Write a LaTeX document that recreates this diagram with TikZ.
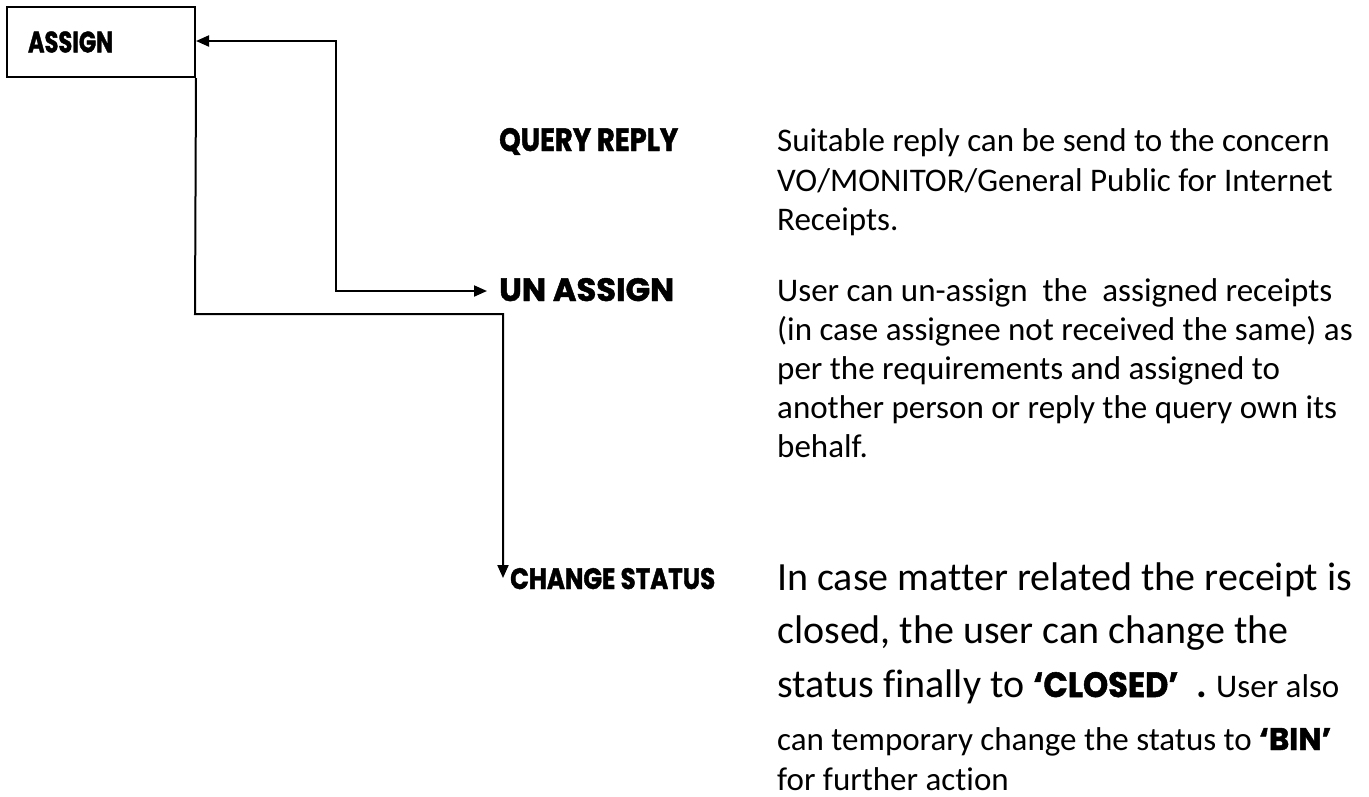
\documentclass[tikz,border=0pt]{standalone}
\usepackage{fontspec}
\setmainfont{Carlito}[Ligatures={NoCommon,NoContextual}]
\newfontfamily\headfont{Poppins}[FakeBold=1.5]
\usetikzlibrary{arrows.meta}
\newcommand\headtxt[3]{\resizebox{#1pt}{#2pt}{\headfont\bfseries #3}}
\tikzset{
  conn/.style={line width=2pt},
  tipB/.style={-{Triangle[length=13pt,width=11pt]}},
  head/.style={anchor=base west, inner sep=0pt},
  qtxt/.style={anchor=base west, inner sep=0pt, font=\fontsize{33}{40}\selectfont},
  utxt/.style={anchor=base west, inner sep=0pt, font=\fontsize{33}{40}\selectfont},
  btxt/.style={anchor=base west, inner sep=0pt, font=\fontsize{40}{48}\selectfont},
}
\begin{document}
\begin{tikzpicture}[x=1pt,y=-1pt]
\useasboundingbox (0,0) rectangle (1369,796);
\node[draw, line width=2pt, minimum height=70pt, text width=146pt, inner xsep=21pt, align=left] (assign) at (101,42) {\headtxt{85}{21}{ASSIGN}};

\node[head] (query) at (499,151) {\headtxt{179}{23}{QUERY REPLY}};
\node[head] (unassign) at (499,301) {\headtxt{175}{23}{UN ASSIGN}};
\node[head] (change) at (510,589) {\headtxt{205}{21}{CHANGE STATUS}};

\node[qtxt] (q1) at (777,151) {Suitable reply can be send to the concern};
\node[qtxt] (q2) at (777,191) {VO/MONITOR/General Public for Internet};
\node[qtxt] (q3) at (777,230) {Receipts.};

\node[utxt] (u1) at (777,301) {User can un-assign\ \ the\ \ assigned receipts};
\node[utxt] (u2) at (777,340) {(in case assignee not received the same) as};
\node[utxt] (u3) at (777,379) {per the requirements and assigned to};
\node[utxt] (u4) at (777,418) {another person or reply the query own its};
\node[utxt] (u5) at (777,457) {behalf.};

\node[btxt] (c1) at (777,590) {In case matter related the receipt is};
\node[btxt] (c2) at (777,643) {closed, the user can change the};
\node[btxt] (c3) at (777,697) {status finally to \headtxt{145}{25}{‘CLOSED’}\ \ \textbf{.}\ {\fontsize{33}{40}\selectfont User also}};
\node[utxt] (c4) at (777,750) {can temporary change the status to \headtxt{72}{22}{‘BIN’}};
\node[utxt] (c5) at (777,790) {for further action};

\coordinate (a1) at (336,41);
\coordinate (a2) at (336,291);
\draw[conn, {Triangle[length=13pt,width=11pt]}-{Triangle[length=13pt,width=11pt]}] (assign.east |- a1) -- (a1) -- (a2) -- ([xshift=-12pt]unassign.west |- a2);

\coordinate (b1) at (195,314);
\coordinate (b2) at (503,314);
\coordinate (b3) at (503,578);
\draw[conn, tipB] (assign.south east) -- (b1) -- (b2) -- (b3);
\end{tikzpicture}
\end{document}
